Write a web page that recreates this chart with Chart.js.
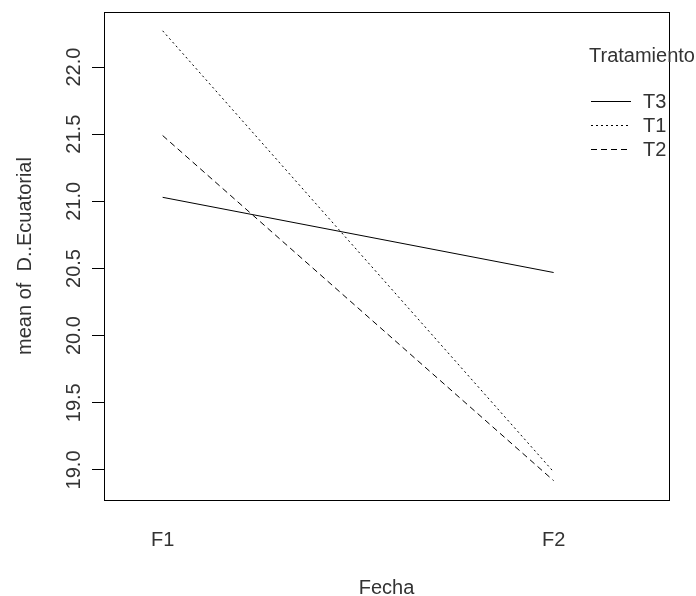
<!DOCTYPE html>
<html>
<head>
<meta charset="utf-8">
<script src="https://cdn.jsdelivr.net/npm/chart.js@4/dist/chart.umd.min.js"></script>
<style>
  body { margin: 0; background: #fff; }
</style>
</head>
<body>
<canvas id="chart" width="696" height="596"></canvas>
<script>
// levels of Fecha and the mean of D..Ecuatorial per Tratamiento
const categories = ["F1", "F2"];
const t3 = [21.03, 20.47];
const t1 = [22.27, 18.985];
const t2 = [21.49, 18.92];
const yTicks = [19.0, 19.5, 20.0, 20.5, 21.0, 21.5, 22.0];

const FONT = "'Liberation Sans', Arial, sans-serif";
const FS = 20;
const TXT = "#333";

// box around plot + y tick labels + legend
const rPlot = {
  id: "rPlot",
  beforeDraw(chart) {
    const ctx = chart.ctx;
    ctx.save();
    ctx.fillStyle = "#fff";
    ctx.fillRect(0, 0, chart.width, chart.height);
    ctx.restore();
  },
  afterDraw(chart) {
    const ctx = chart.ctx;
    const a = chart.chartArea;
    const y = chart.scales.y;
    ctx.save();
    ctx.strokeStyle = "#000";
    ctx.lineWidth = 1;
    ctx.strokeRect(Math.round(a.left) + 0.5, Math.round(a.top) + 0.5,
      Math.round(a.right - a.left), Math.round(a.bottom - a.top));

    // y labels, vertical like R
    ctx.fillStyle = TXT;
    ctx.font = FS + "px " + FONT;
    ctx.textAlign = "center";
    ctx.textBaseline = "middle";
    yTicks.forEach(v => {
      ctx.save();
      ctx.translate(74, y.getPixelForValue(v));
      ctx.rotate(-Math.PI / 2);
      ctx.fillText(v.toFixed(1), 0, 0);
      ctx.restore();
    });

    // legend
    ctx.textAlign = "left";
    ctx.fillText("Tratamiento", 589, 56);
    const items = [["T3", []], ["T1", [2, 3]], ["T2", [6, 4]]];
    items.forEach((it, i) => {
      const ly = 101 + i * 24;
      ctx.beginPath();
      ctx.setLineDash(it[1]);
      ctx.moveTo(591, ly + 0.5);
      ctx.lineTo(631, ly + 0.5);
      ctx.stroke();
      ctx.setLineDash([]);
      ctx.fillText(it[0], 643, ly + 1);
    });
    ctx.restore();
  }
};

const mk = (label, vals, dash) => ({
  label: label,
  data: vals.map((v, i) => ({ x: i + 1, y: v })),
  borderColor: "#000",
  borderWidth: 1,
  borderDash: dash,
  pointRadius: 0,
  fill: false,
  tension: 0
});

new Chart(document.getElementById("chart").getContext("2d"), {
  type: "line",
  data: {
    datasets: [
      mk("T3", t3, []),
      mk("T1", t1, [2, 3]),
      mk("T2", t2, [6, 4])
    ]
  },
  options: {
    responsive: false,
    animation: false,
    layout: { padding: { left: 0, top: 12, right: 27, bottom: 0 } },
    plugins: { legend: { display: false }, tooltip: { enabled: false } },
    scales: {
      x: {
        type: "linear",
        min: 0.85,
        max: 2.295,
        afterBuildTicks: s => { s.ticks = categories.map((c, i) => ({ value: i + 1 })); },
        afterFit: s => { s.height = 96; },
        grid: { display: false },
        border: { display: false },
        ticks: {
          color: TXT,
          font: { family: FONT, size: FS },
          padding: 20,
          maxRotation: 0,
          callback: v => categories[v - 1]
        },
        title: {
          display: true,
          text: "Fecha",
          color: TXT,
          font: { family: FONT, size: FS, lineHeight: 0.8 },
          padding: { top: 0, bottom: 0 }
        }
      },
      y: {
        min: 18.776,
        max: 22.41,
        afterBuildTicks: s => { s.ticks = yTicks.map(v => ({ value: v })); },
        afterFit: s => { s.width = 104; },
        grid: { drawOnChartArea: false, drawTicks: true, tickLength: 12, color: "#000" },
        border: { display: false },
        ticks: { display: false },
        title: {
          display: true,
          text: "mean of  D..Ecuatorial",
          color: TXT,
          font: { family: FONT, size: FS, lineHeight: 1.2 },
          padding: { top: 13, bottom: 0 }
        }
      }
    }
  },
  plugins: [rPlot]
});
</script>
</body>
</html>
